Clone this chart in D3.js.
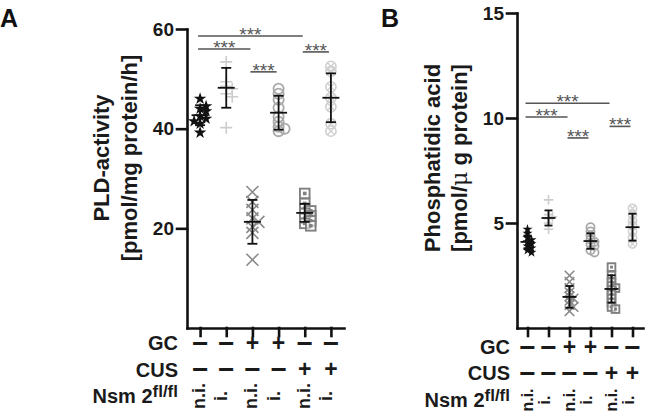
<!DOCTYPE html>
<html>
<head>
<meta charset="utf-8">
<script src="https://cdn.jsdelivr.net/npm/d3@7"></script>
<style>
    body { margin: 0; background: #fff; }
    svg text { font-family: "Liberation Sans", Arial, sans-serif; }
</style>
</head>
<body>
<svg id="chart" width="650" height="416"></svg>
<script>
// groups along the x axis
var nsmRow = ["n.i.", "i.", "n.i.", "i.", "n.i.", "i."];
var gcRow = ["\u2212", "\u2212", "+", "+", "\u2212", "\u2212"];
var cusRow = ["\u2212", "\u2212", "\u2212", "\u2212", "+", "+"];

// panel A: PLD activity [pmol/mg protein/h]
var pldValues = [
    [46, 44, 44.5, 43.5, 42.5, 42, 41, 41.5, 39.2],
    [53.4, 49.4, 48.5, 48, 47, 46.4, 40.2],
    [27.3, 25.3, 23.7, 22, 21.3, 20.3, 19.1, 13.7],
    [48, 47, 45.8, 44.2, 42.4, 41.4, 40.4, 39.5, 40],
    [27, 25, 24, 23.5, 23, 22.5, 22, 21.5, 21, 20.5],
    [52.5, 51.5, 48.4, 46.2, 44.4, 41, 39.5]
];
var pldMean = [42.7, 48.2, 21.3, 43.2, 23.1, 46.2];
var pldSd = [2.0, 4.0, 4.4, 3.4, 1.8, 4.9];
var pldTicks = [20, 40, 60];
// [from group, to group, height]
var pldSig = [[0, 4, 58.6], [0, 2, 56], [2, 3, 51.4], [4, 5, 55.4]];

// panel B: phosphatidic acid [pmol/µg protein]
var paValues = [
    [4.7, 4.5, 4.3, 4.2, 4.1, 4.0, 3.9, 3.8, 3.7, 3.6],
    [6.1, 5.4, 5.3, 5.2, 5.0, 4.7],
    [2.5, 2.2, 1.9, 1.7, 1.5, 1.4, 1.3, 1.1, 1.0, 0.8],
    [4.8, 4.6, 4.4, 4.2, 4.1, 4.0, 3.9, 3.7, 3.6],
    [2.9, 2.5, 2.2, 2.0, 1.9, 1.8, 1.6, 1.4, 1.2, 1.0, 0.9],
    [5.7, 5.4, 5.1, 4.9, 4.6, 4.3, 4.0]
];
var paMean = [4.1, 5.24, 1.48, 4.14, 1.86, 4.8];
var paSd = [0.3, 0.36, 0.52, 0.37, 0.65, 0.64];
var paTicks = [5, 10, 15];
var paSig = [[0, 4, 10.7], [0, 2, 10.05], [2, 3, 9.05], [4, 5, 9.6]];

var markerShape = ["star", "plus", "cross", "circle", "square", "otimes"];
var markerColor = ["#111", "#cdcdcd", "#8a8a8a", "#a9a9a9", "#808080", "#d0d0d0"];

var svg = d3.select("#chart");

/**
 * Spread points sideways where they would sit on top of each other.
 */
function dodge(ys, minDy, step) {
    var placed = [];
    return ys.map(function (y) {
        var k = 0, off = 0;
        while (true) {
            off = (k % 2 ? 1 : -1) * Math.ceil(k / 2) * step;
            var hit = placed.some(function (p) {
                return Math.abs(p.y - y) < minDy && Math.abs(p.x - off) < step * 0.9;
            });
            if (!hit || k > 6) break;
            k++;
        }
        placed.push({x: off, y: y});
        return off;
    });
}

function drawMarker(g, shape, color, r) {
    if (shape === "star") {
        g.append("path")
            .attr("d", d3.symbol(d3.symbolStar, r * r * 1.35)())
            .attr("fill", color);
    } else if (shape === "plus") {
        g.append("path").attr("d", "M" + (-r) + ",0H" + r + "M0," + (-r) + "V" + r)
            .attr("stroke", color).attr("stroke-width", 1.6).attr("fill", "none");
    } else if (shape === "cross") {
        g.append("path").attr("d", "M" + (-r) + "," + (-r) + "L" + r + "," + r + "M" + (-r) + "," + r + "L" + r + "," + (-r))
            .attr("stroke", color).attr("stroke-width", 1.6).attr("fill", "none");
    } else if (shape === "circle") {
        g.append("circle").attr("r", r * 0.85)
            .attr("stroke", color).attr("stroke-width", 1.8).attr("fill", "none");
    } else if (shape === "square") {
        g.append("rect").attr("x", -r * 0.8).attr("y", -r * 0.8)
            .attr("width", r * 1.6).attr("height", r * 1.6)
            .attr("stroke", color).attr("stroke-width", 1.9).attr("fill", "#fff").attr("fill-opacity", 0.5);
        g.append("rect").attr("x", -r * 0.3).attr("y", -r * 0.3)
            .attr("width", r * 0.6).attr("height", r * 0.6).attr("fill", color);
    } else if (shape === "otimes") {
        var c = r * 0.85, d = c * 0.7;
        g.append("circle").attr("r", c)
            .attr("stroke", color).attr("stroke-width", 1.6).attr("fill", "none");
        g.append("path").attr("d", "M" + (-d) + "," + (-d) + "L" + d + "," + d + "M" + (-d) + "," + d + "L" + d + "," + (-d))
            .attr("stroke", color).attr("stroke-width", 1.3).attr("fill", "none");
    }
}

function drawPanel(cfg) {
    var x = d3.scalePoint().domain(d3.range(nsmRow.length)).range(cfg.xRange).padding(0.5);
    var y = d3.scaleLinear().domain([0, cfg.yMax]).range(cfg.yRange);
    var g = svg.append("g");

    // points
    cfg.values.forEach(function (vals, i) {
        var offs = dodge(vals.map(y), cfg.minDy, cfg.step);
        vals.forEach(function (v, j) {
            var m = g.append("g").attr("transform", "translate(" + (x(i) + offs[j]) + "," + y(v) + ")");
            drawMarker(m, markerShape[i], markerColor[i], cfg.r);
        });
    });

    // mean +/- SD
    cfg.mean.forEach(function (m, i) {
        var cx = x(i), lo = y(m - cfg.sd[i]), hi = y(m + cfg.sd[i]);
        var e = g.append("g").attr("stroke", "#111").attr("stroke-width", 1.8);
        e.append("line").attr("x1", cx).attr("x2", cx).attr("y1", lo).attr("y2", hi);
        e.append("line").attr("x1", cx - cfg.cap).attr("x2", cx + cfg.cap).attr("y1", lo).attr("y2", lo);
        e.append("line").attr("x1", cx - cfg.cap).attr("x2", cx + cfg.cap).attr("y1", hi).attr("y2", hi);
        e.append("line").attr("x1", cx - cfg.meanW).attr("x2", cx + cfg.meanW).attr("y1", y(m)).attr("y2", y(m));
    });

    // axes
    var yAxis = g.append("g")
        .attr("transform", "translate(" + cfg.xRange[0] + ",0)")
        .call(d3.axisLeft(y).tickValues(cfg.ticks).tickSize(10).tickSizeOuter(0).tickPadding(3));
    var xAxis = g.append("g")
        .attr("transform", "translate(0," + y(0) + ")")
        .call(d3.axisBottom(x).tickSize(8).tickSizeOuter(0).tickFormat(""));
    [yAxis, xAxis].forEach(function (a) {
        a.selectAll("path, line").attr("stroke", "#111").attr("stroke-width", 2.6)
            .attr("stroke-linecap", "square");
    });
    yAxis.selectAll("text")
        .attr("font-size", 19).attr("font-weight", "bold").attr("fill", "#1a1a1a")
        .attr("font-family", "'Liberation Sans', Arial, sans-serif");

    // significance bars
    cfg.sig.forEach(function (s) {
        var x1 = x(s[0]) - 2, x2 = x(s[1]) - 2, yy = y(s[2]);
        g.append("line").attr("x1", x1).attr("x2", x2).attr("y1", yy).attr("y2", yy)
            .attr("stroke", "#555").attr("stroke-width", 1.6);
        g.append("text").attr("x", (x1 + x2) / 2).attr("y", yy + 5)
            .attr("text-anchor", "middle").attr("font-size", 19).attr("fill", "#555")
            .text("***");
    });

    // condition rows: the minus glyph sits a little higher than the plus
    var rows = g.append("g").attr("font-weight", "bold").attr("fill", "#1a1a1a");
    [[gcRow, cfg.rowY[0]], [cusRow, cfg.rowY[1]]].forEach(function (row) {
        row[0].forEach(function (s, i) {
            var plus = s === "+";
            rows.append("text").attr("x", x(i)).attr("y", row[1] + (plus ? 0 : 2))
                .attr("text-anchor", "middle")
                .attr("font-size", plus ? 23 : 28)
                .text(s);
        });
    });
    nsmRow.forEach(function (s, i) {
        var bx = x(i) + (s === "n.i." ? 5 : 1);
        rows.append("text")
            .attr("transform", "translate(" + bx + "," + cfg.nsmY + ") rotate(-90)")
            .attr("text-anchor", "middle").attr("font-size", cfg.nsmSize)
            .text(s);
    });

    var labels = g.append("g").attr("font-weight", "bold").attr("fill", "#1a1a1a")
        .attr("font-size", 20).attr("text-anchor", "end");
    labels.append("text").attr("x", cfg.labelX).attr("y", cfg.labelY[0]).text("GC");
    labels.append("text").attr("x", cfg.labelX).attr("y", cfg.labelY[1]).text("CUS");
    var nsm = labels.append("text").attr("x", cfg.labelX).attr("y", cfg.labelY[2]);
    nsm.append("tspan").text("Nsm 2");
    nsm.append("tspan").attr("dy", -6).attr("font-size", 17).text("fl/fl");

    // y title
    var title = g.append("g").attr("font-weight", "bold").attr("fill", "#1a1a1a")
        .attr("font-size", 22).attr("text-anchor", "middle");
    cfg.title.forEach(function (t, k) {
        var tx = title.append("text")
            .attr("transform", "translate(" + cfg.titleX[k] + "," + cfg.titleY + ") rotate(-90)");
        t.forEach(function (part) {
            var sp = tx.append("tspan").text(part.text);
            if (part.serif) sp.attr("font-family", "'DejaVu Serif', serif").attr("font-weight", "normal");
        });
    });

    svg.append("text").attr("x", cfg.letterX).attr("y", 27)
        .attr("font-size", 25).attr("font-weight", "bold").attr("fill", "#111")
        .text(cfg.letter);
}

drawPanel({
    letter: "A", letterX: 0,
    xRange: [187, 344], yRange: [328, 29], yMax: 60,
    values: pldValues, mean: pldMean, sd: pldSd, ticks: pldTicks, sig: pldSig,
    r: 6, minDy: 3.5, step: 6, cap: 5, meanW: 8.5,
    rowY: [351, 377], nsmY: 396, nsmSize: 18,
    labelX: 178, labelY: [350, 377, 403],
    title: [[{text: "PLD-activity"}], [{text: "[pmol/mg protein/h]"}]],
    titleX: [109, 137], titleY: 158
});

drawPanel({
    letter: "B", letterX: 381,
    xRange: [517, 643], yRange: [328, 13], yMax: 15,
    values: paValues, mean: paMean, sd: paSd, ticks: paTicks, sig: paSig,
    r: 4.8, minDy: 3, step: 4, cap: 4, meanW: 7,
    rowY: [355, 381], nsmY: 400, nsmSize: 16,
    labelX: 510, labelY: [354, 380, 407],
    title: [[{text: "Phosphatidic acid"}], [{text: "[pmol/"}, {text: "\u03bc", serif: true}, {text: " g protein]"}]],
    titleX: [440, 467], titleY: 158
});
</script>
</body>
</html>
